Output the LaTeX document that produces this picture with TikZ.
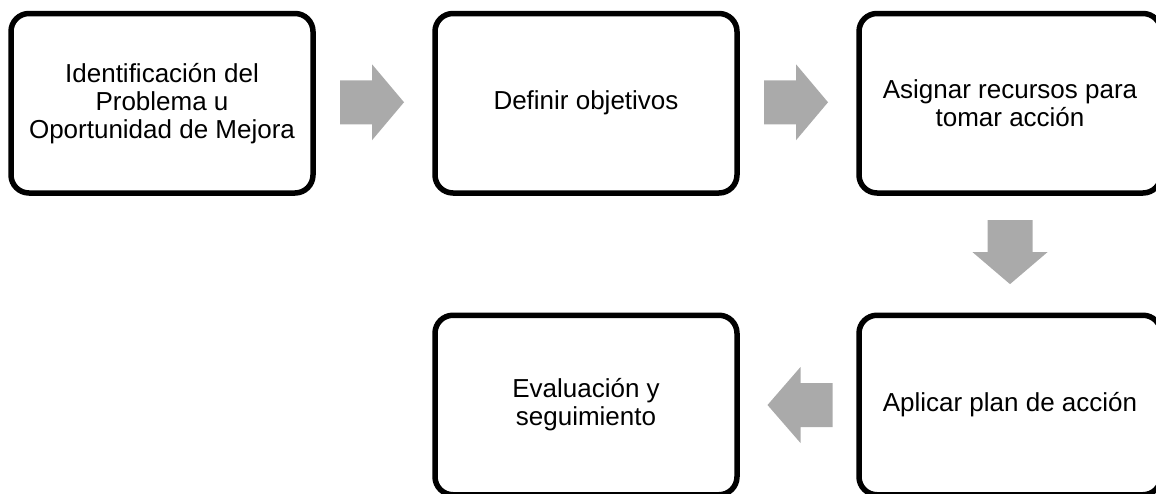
\documentclass[tikz,border=0pt]{standalone}
\usepackage{fontspec}
\setmainfont{Liberation Sans}
\usetikzlibrary{calc}
\definecolor{arrowgray}{RGB}{170,170,170}
\tikzset{
  box/.style={draw=black, line width=5.5pt, rounded corners=18pt, fill=white,
    minimum width=302pt, minimum height=179.5pt, align=center, inner sep=0pt,
    font=\fontsize{26}{28}\selectfont},
  blockarrow/.style={fill=arrowgray, draw=none}
}
\begin{document}
\begin{tikzpicture}[x=1pt,y=-1pt]
\useasboundingbox (0,0) rectangle (1156,493);
\node[box] (b1) at (162,103.25) {Identificación del\\Problema u\\Oportunidad de Mejora};
\node[box] (b2) at (586,103.25) {Definir objetivos};
\node[box] (b3) at (1010,103.25) {Asignar recursos para\\tomar acción};
\node[box] (b4) at (1010,405) {Aplicar plan de acción};
\node[box] (b5) at (586,405) {Evaluación y\\seguimiento};
% block arrows
\coordinate (m1) at ($(b1.east)!0.5!(b2.west)+(-2,-1)$);
\coordinate (m2) at ($(b2.east)!0.5!(b3.west)+(-2,-1)$);
\coordinate (m3) at ($(b3.south)!0.5!(b4.north)+(0,-2)$);
\coordinate (m4) at ($(b4.west)!0.5!(b5.east)+(2,0)$);
\foreach \m in {m1,m2}{
  \fill[blockarrow] ([shift={(-32,-22)}]\m) -- ([shift={(0,-22)}]\m) -- ([shift={(0,-38)}]\m)
    -- ([shift={(32,0)}]\m) -- ([shift={(0,38)}]\m) -- ([shift={(0,22)}]\m)
    -- ([shift={(-32,22)}]\m) -- cycle;
}
\fill[blockarrow] ([shift={(-22.5,-32)}]m3) -- ([shift={(22.5,-32)}]m3) -- ([shift={(22.5,0)}]m3)
    -- ([shift={(37.5,0)}]m3) -- ([shift={(0,32)}]m3) -- ([shift={(-37.5,0)}]m3)
    -- ([shift={(-22.5,0)}]m3) -- cycle;
\fill[blockarrow] ([shift={(32.5,-22)}]m4) -- ([shift={(0.5,-22)}]m4) -- ([shift={(0.5,-38)}]m4)
    -- ([shift={(-32.5,0)}]m4) -- ([shift={(0.5,38)}]m4) -- ([shift={(0.5,22)}]m4)
    -- ([shift={(32.5,22)}]m4) -- cycle;
\end{tikzpicture}
\end{document}
